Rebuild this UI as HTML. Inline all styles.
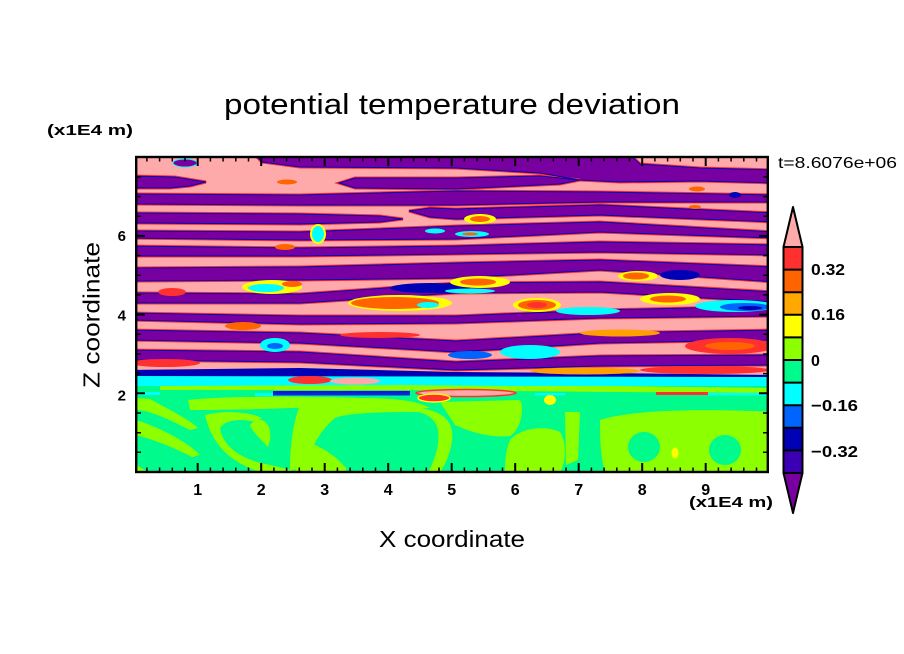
<!DOCTYPE html>
<html><head><meta charset="utf-8"><style>
html,body{margin:0;padding:0;background:#fff;width:904px;height:654px;overflow:hidden}
svg{display:block}
text{font-family:"Liberation Sans",sans-serif;fill:#000}
</style></head><body>
<svg width="904" height="654" viewBox="0 0 904 654" xmlns="http://www.w3.org/2000/svg">
<rect width="904" height="654" fill="#fff"/>
<defs>
<clipPath id="cp"><rect x="136" y="157" width="632" height="315"/></clipPath>
<g id="bands">
<polygon points="250,150 625,150 640,164 700,168 775,170 775,183 700,181 620,182 580,180 540,173 456,168 300,167 262,162"/>
<polygon points="130,176 175,177 206,182 190,186 170,188 130,188"/>
<polygon points="339,183 355,178 456,178 540,176 580,180 560,184 456,189 355,188"/>
<polygon points="130,194 300,195 456,191 600,192 775,195 775,202 600,202 456,205 300,205 130,204"/>
<polygon points="130,213 300,214 380,216 403,219 380,222 300,224 130,223"/>
<polygon points="409,211 430,208 456,209 600,205 775,213 775,222 600,215 456,219 430,217"/>
<polygon points="130,231 300,232 456,226 600,222 775,232 775,238 600,232 456,239 300,240 130,238"/>
<polygon points="130,246 300,248 456,246 600,242 775,245 775,255 600,252 456,254 300,256 130,256"/>
<polygon points="130,268 300,267 456,263 600,260 775,267 775,282 600,270 456,278 300,280 130,281"/>
<polygon points="130,293 300,294 456,283 600,282 775,292 775,302 600,292 456,293 300,303 130,303"/>
<polygon points="130,313 300,316 456,316 600,310 775,306 775,316 600,318 456,323 300,324 130,320"/>
<polygon points="130,330 300,333 456,341 600,333 775,330 775,340 600,343 456,352 300,343 130,340"/>
<polygon points="130,350 300,352 456,362 600,356 775,355 775,365 600,366 456,370 300,362 130,360"/>
</g>
</defs>

<g clip-path="url(#cp)">
<rect x="130" y="150" width="645" height="230" fill="#ffaaaa"/>
<rect x="130" y="375" width="645" height="11" fill="#00ffff"/>
<rect x="130" y="386" width="645" height="90" fill="#00fa8c"/>
<use href="#bands" fill="#7800a0" stroke="#ff3030" stroke-width="3" paint-order="stroke"/>
<use href="#bands" fill="none" stroke="#0000b4" stroke-width="1"/>
<polygon points="130,370 300,368 456,372 600,373 775,375 775,377 130,376" fill="#0000b4"/>
<ellipse cx="185" cy="163" rx="12" ry="4" fill="#7800a0" stroke="#00ffff" stroke-width="1"/>

<ellipse cx="272" cy="287" rx="30" ry="7" fill="#ffff00"/><ellipse cx="266" cy="288" rx="18" ry="4" fill="#00ffff"/><ellipse cx="292" cy="284" rx="10" ry="3" fill="#ff6400"/>
<ellipse cx="172" cy="292" rx="14" ry="4" fill="#ff3030"/>
<ellipse cx="400" cy="303" rx="52" ry="8" fill="#ffff00"/><ellipse cx="395" cy="303" rx="44" ry="6" fill="#ff6400"/><ellipse cx="428" cy="305" rx="11" ry="3" fill="#00ffff"/>
<ellipse cx="318" cy="234" rx="7" ry="9" fill="#00ffff" stroke="#ffff00" stroke-width="2"/>
<ellipse cx="285" cy="247" rx="10" ry="3" fill="#ff6400"/>
<ellipse cx="287" cy="182" rx="10" ry="2.5" fill="#ff6400"/>
<ellipse cx="435" cy="231" rx="10" ry="2.5" fill="#00ffff"/>
<ellipse cx="480" cy="219" rx="16" ry="5" fill="#ffff00"/><ellipse cx="480" cy="219" rx="10" ry="3" fill="#ff6400"/>
<ellipse cx="472" cy="234" rx="17" ry="3" fill="#00ffff"/><ellipse cx="470" cy="234" rx="8" ry="1.5" fill="#ff6400"/>
<ellipse cx="430" cy="288" rx="40" ry="5" fill="#0000b4"/>
<ellipse cx="480" cy="282" rx="30" ry="6" fill="#ffff00"/><ellipse cx="478" cy="282" rx="18" ry="3.5" fill="#ff6400"/><ellipse cx="470" cy="291" rx="25" ry="2.5" fill="#00ffff"/>
<ellipse cx="537" cy="305" rx="24" ry="7" fill="#ffff00"/><ellipse cx="537" cy="305" rx="19" ry="5" fill="#ff6400"/><ellipse cx="537" cy="305" rx="10" ry="3" fill="#ff3030"/>
<ellipse cx="670" cy="299" rx="30" ry="6" fill="#ffff00"/><ellipse cx="668" cy="299" rx="18" ry="3.5" fill="#ff6400"/>
<ellipse cx="588" cy="311" rx="32" ry="4" fill="#00ffff"/>
<ellipse cx="735" cy="306" rx="40" ry="6" fill="#00ffff"/><ellipse cx="745" cy="307" rx="25" ry="4" fill="#0064ff"/><ellipse cx="750" cy="308" rx="12" ry="2" fill="#0000b4"/>
<ellipse cx="697" cy="189" rx="8" ry="2.5" fill="#ff6400"/><ellipse cx="735" cy="195" rx="6" ry="3" fill="#0000b4"/>
<ellipse cx="695" cy="207" rx="6" ry="2" fill="#ff6400"/>
<ellipse cx="638" cy="276" rx="20" ry="5" fill="#ffff00"/><ellipse cx="636" cy="276" rx="13" ry="3.5" fill="#ff6400"/><ellipse cx="680" cy="275" rx="20" ry="5" fill="#0000b4"/>
<ellipse cx="243" cy="326" rx="18" ry="4" fill="#ff6400"/>
<ellipse cx="380" cy="335" rx="40" ry="3" fill="#ff3030"/>
<ellipse cx="275" cy="345" rx="15" ry="7" fill="#00ffff"/><ellipse cx="275" cy="346" rx="8" ry="3" fill="#0064ff"/>
<ellipse cx="165" cy="363" rx="35" ry="4" fill="#ff3030"/>
<ellipse cx="620" cy="333" rx="40" ry="3.5" fill="#ffa000"/>
<ellipse cx="530" cy="352" rx="30" ry="7" fill="#00ffff"/>
<ellipse cx="730" cy="346" rx="45" ry="8" fill="#ff3030"/><ellipse cx="730" cy="346" rx="25" ry="4" fill="#ff6400"/>
<ellipse cx="470" cy="355" rx="22" ry="4" fill="#0064ff"/>
<ellipse cx="705" cy="370" rx="65" ry="4" fill="#ff3030"/>
<ellipse cx="585" cy="371" rx="55" ry="3.5" fill="#ffa000"/>
<ellipse cx="310" cy="380" rx="22" ry="4" fill="#ff3030"/><ellipse cx="355" cy="381" rx="25" ry="3.5" fill="#ffaaaa"/>

<path fill="#8cff00" d="M160,386 L400,385 L510,386 L617,386 L775,388 L775,393 L617,392 L510,391 L400,390 L160,390 Z"/>
<rect x="273" y="391" width="137" height="4.5" fill="#0028e0"/>
<rect x="273" y="391" width="137" height="1.5" fill="#3c00b4"/>
<rect x="130" y="392" width="30" height="3" fill="#00ffff"/>
<rect x="255" y="393" width="18" height="3" fill="#00ffff"/>
<rect x="535" y="393" width="30" height="2.5" fill="#00ffff"/>
<rect x="708" y="393" width="60" height="2.5" fill="#00ffff"/>
<ellipse cx="466" cy="393" rx="50" ry="3.5" fill="#ffaaaa" stroke="#ff3030" stroke-width="1.5"/>
<ellipse cx="434" cy="398" rx="16" ry="4" fill="#ff3030" stroke="#ffff00" stroke-width="1.5"/>
<rect x="656" y="392" width="52" height="3" fill="#ff3030"/>

<g fill="#8cff00">
<path d="M188,400 C220,396 300,396 360,398 C400,398 420,402 430,408 C400,410 370,405 340,406 C300,408 240,410 190,410 Z"/>
<path d="M136,398 L150,399 C170,410 190,420 198,428 L190,430 C170,420 150,410 136,410 Z"/>
<path d="M136,420 C160,428 185,440 200,455 L192,457 C175,448 155,440 136,435 Z"/>
<path d="M136,465 L148,472 L136,472 Z"/>
<path d="M205,415 C225,410 250,412 262,418 L255,422 C240,418 225,420 220,428 C222,445 240,460 270,465 L300,472 L260,472 C230,462 212,445 205,415 Z"/>
<path d="M255,420 C265,418 272,425 270,440 L268,447 C262,440 252,432 250,425 Z"/>
<path d="M300,405 C330,400 380,400 418,404 L420,412 C390,412 350,412 335,418 C320,430 310,450 305,468 L290,470 C290,450 292,425 300,405 Z"/>
<path d="M300,440 C320,445 335,455 346,468 L346,472 L295,472 Z"/>
<path d="M418,408 C440,410 455,420 452,440 C450,455 445,465 440,472 L428,472 C435,460 440,445 438,430 C436,420 428,414 418,412 Z"/>
<path d="M440,402 L520,400 C525,410 520,430 510,436 C490,438 470,432 455,425 Z"/>
<path d="M510,440 C520,428 545,425 560,432 C568,445 565,465 560,472 L505,472 C505,460 506,450 510,440 Z"/>
<path d="M565,412 L580,412 L578,460 L566,465 Z"/>
<path d="M600,420 C630,410 700,408 775,412 L775,472 L605,472 C600,455 600,435 600,420 Z"/>
</g>
<g fill="#00fa8c">
<ellipse cx="644" cy="447" rx="16" ry="15"/>
<ellipse cx="725" cy="450" rx="16" ry="15"/>
</g>
<ellipse cx="550" cy="400" rx="6" ry="5" fill="#ffff00"/>
<ellipse cx="675" cy="453" rx="3.5" ry="5.5" fill="#ffff00"/>
</g>

<rect x="136.2" y="157" width="631.6" height="315" fill="none" stroke="#000" stroke-width="2.4"/>
<path stroke="#000" stroke-width="2" fill="none" d="M197.7 472v-9M261.2 472v-9M324.7 472v-9M388.2 472v-9M451.7 472v-9M515.2 472v-9M578.7 472v-9M642.2 472v-9M705.7 472v-9M197.7 157v9M261.2 157v9M324.7 157v9M388.2 157v9M451.7 157v9M515.2 157v9M578.7 157v9M642.2 157v9M705.7 157v9M136 393.3h9M136 314.6h9M136 235.9h9M768 393.3h-9M768 314.6h-9M768 235.9h-9"/>
<path stroke="#000" stroke-width="1.5" fill="none" d="M146.9 472v-4.5M159.6 472v-4.5M172.3 472v-4.5M185 472v-4.5M210.4 472v-4.5M223.1 472v-4.5M235.8 472v-4.5M248.5 472v-4.5M273.9 472v-4.5M286.6 472v-4.5M299.3 472v-4.5M312 472v-4.5M337.4 472v-4.5M350.1 472v-4.5M362.8 472v-4.5M375.5 472v-4.5M400.9 472v-4.5M413.6 472v-4.5M426.3 472v-4.5M439 472v-4.5M464.4 472v-4.5M477.1 472v-4.5M489.8 472v-4.5M502.5 472v-4.5M527.9 472v-4.5M540.6 472v-4.5M553.3 472v-4.5M566 472v-4.5M591.4 472v-4.5M604.1 472v-4.5M616.8 472v-4.5M629.5 472v-4.5M654.9 472v-4.5M667.6 472v-4.5M680.3 472v-4.5M693 472v-4.5M718.4 472v-4.5M731.1 472v-4.5M743.8 472v-4.5M756.5 472v-4.5
M146.9 157v4.5M159.6 157v4.5M172.3 157v4.5M185 157v4.5M210.4 157v4.5M223.1 157v4.5M235.8 157v4.5M248.5 157v4.5M273.9 157v4.5M286.6 157v4.5M299.3 157v4.5M312 157v4.5M337.4 157v4.5M350.1 157v4.5M362.8 157v4.5M375.5 157v4.5M400.9 157v4.5M413.6 157v4.5M426.3 157v4.5M439 157v4.5M464.4 157v4.5M477.1 157v4.5M489.8 157v4.5M502.5 157v4.5M527.9 157v4.5M540.6 157v4.5M553.3 157v4.5M566 157v4.5M591.4 157v4.5M604.1 157v4.5M616.8 157v4.5M629.5 157v4.5M654.9 157v4.5M667.6 157v4.5M680.3 157v4.5M693 157v4.5M718.4 157v4.5M731.1 157v4.5M743.8 157v4.5M756.5 157v4.5
M136 452.3h5M136 432.7h5M136 413h5M136 373.6h5M136 354h5M136 334.3h5M136 294.9h5M136 275.3h5M136 255.6h5M136 216.2h5M136 196.6h5M136 176.9h5
M768 452.3h-5M768 432.7h-5M768 413h-5M768 373.6h-5M768 354h-5M768 334.3h-5M768 294.9h-5M768 275.3h-5M768 255.6h-5M768 216.2h-5M768 196.6h-5M768 176.9h-5"/>

<!-- colorbar -->
<polygon points="793,207 802.5,247 783.5,247" fill="#ffaaaa" stroke="#000" stroke-width="2" stroke-linejoin="round"/>
<polygon points="783.5,473 802.5,473 793,513" fill="#7800a0" stroke="#000" stroke-width="2" stroke-linejoin="round"/>
<rect x="783.5" y="247" width="19" height="22.6" fill="#ff3030"/>
<rect x="783.5" y="269.6" width="19" height="22.6" fill="#ff6400"/>
<rect x="783.5" y="292.2" width="19" height="22.6" fill="#ffa800"/>
<rect x="783.5" y="314.8" width="19" height="22.6" fill="#ffff00"/>
<rect x="783.5" y="337.4" width="19" height="22.6" fill="#8cff00"/>
<rect x="783.5" y="360" width="19" height="22.6" fill="#00fa8c"/>
<rect x="783.5" y="382.6" width="19" height="22.6" fill="#00ffff"/>
<rect x="783.5" y="405.2" width="19" height="22.6" fill="#0064ff"/>
<rect x="783.5" y="427.8" width="19" height="22.6" fill="#0000b4"/>
<rect x="783.5" y="450.4" width="19" height="22.6" fill="#3c00b4"/>
<path stroke="#000" stroke-width="2" fill="none" d="M783.5 269.6h19M783.5 292.2h19M783.5 314.8h19M783.5 337.4h19M783.5 360h19M783.5 382.6h19M783.5 405.2h19M783.5 427.8h19M783.5 450.4h19"/>
<rect x="783.5" y="247" width="19" height="226" fill="none" stroke="#000" stroke-width="2"/>

<g font-weight="bold" font-size="16">
<text x="811" y="275" textLength="34" lengthAdjust="spacingAndGlyphs">0.32</text>
<text x="811" y="320" textLength="34" lengthAdjust="spacingAndGlyphs">0.16</text>
<text x="811" y="366">0</text>
<text x="811" y="411" textLength="47" lengthAdjust="spacingAndGlyphs">−0.16</text>
<text x="811" y="457" textLength="47" lengthAdjust="spacingAndGlyphs">−0.32</text>
</g>

<g font-weight="bold" font-size="16" text-anchor="middle">
<text x="197.7" y="495">1</text>
<text x="261.2" y="495">2</text>
<text x="324.7" y="495">3</text>
<text x="388.2" y="495">4</text>
<text x="451.7" y="495">5</text>
<text x="515.2" y="495">6</text>
<text x="578.7" y="495">7</text>
<text x="642.2" y="495">8</text>
<text x="705.7" y="495">9</text>
</g>
<g font-weight="bold" font-size="15" text-anchor="end">
<text x="126" y="400.5">2</text>
<text x="126" y="320.5">4</text>
<text x="126" y="241">6</text>
</g>

<text x="224" y="114" font-size="29" textLength="456" lengthAdjust="spacingAndGlyphs">potential temperature deviation</text>
<text x="47" y="135" font-size="15" font-weight="bold" textLength="86" lengthAdjust="spacingAndGlyphs">(x1E4 m)</text>
<text x="689" y="507" font-size="15" font-weight="bold" textLength="84" lengthAdjust="spacingAndGlyphs">(x1E4 m)</text>
<text x="778" y="168" font-size="16" textLength="119" lengthAdjust="spacingAndGlyphs">t=8.6076e+06</text>
<text x="379" y="547" font-size="23" textLength="146" lengthAdjust="spacingAndGlyphs">X coordinate</text>
<text transform="translate(99.5,315) rotate(-90)" text-anchor="middle" font-size="23" textLength="146" lengthAdjust="spacingAndGlyphs">Z coordinate</text>
</svg>
</body></html>
